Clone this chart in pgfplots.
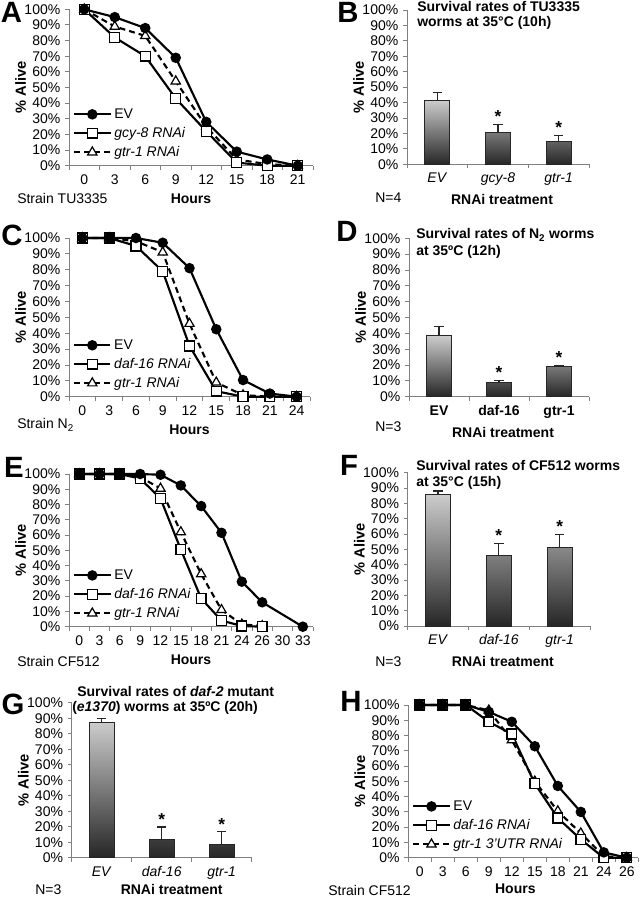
\documentclass[border=0pt]{standalone}
\usepackage{fontspec}
\setmainfont{Liberation Sans}
\usepackage{pgfplots}
\pgfplotsset{compat=1.18}
\newcommand{\tf}{\fontsize{10.5}{12}\selectfont}
\pgfplotsset{
 base/.style={
  scale only axis, axis lines=left,
  axis line style={-, black!50, line width=0.7pt},
  ymin=0, ymax=100, ytick={0,10,...,100},
  yticklabels={0\%,10\%,20\%,30\%,40\%,50\%,60\%,70\%,80\%,90\%,100\%},
  tick align=outside, major tick length=3pt, minor tick length=3pt,
  every tick/.append style={black!50, line width=0.7pt},
  every major x tick/.append style={draw=none},
  ticklabel style={font=\tf},
  ylabel={\% Alive}, ylabel style={font=\fontsize{11}{12}\selectfont\bfseries},
  ylabel shift=-8pt,
  xlabel style={font=\fontsize{10.5}{12}\selectfont\bfseries},
  clip=false,
 },
 lc/.style={base,
  legend style={draw=none, fill=none, at={(0.01,0.02)}, anchor=south west,
   font=\fontsize{10.5}{12}\selectfont, row sep=1.2pt, inner sep=1pt,
   cells={anchor=west}},
  reverse legend,
  legend image code/.code={\draw[mark repeat=2,mark phase=2,##1] plot coordinates {(0cm,0cm) (0.48cm,0cm) (0.96cm,0cm)};},
 },
 sEV/.style={black, line width=1.6pt, mark=*, mark size=3.1pt, mark options={solid}},
 sSQ/.style={black, line width=1.6pt, mark=square*, mark size=3.7pt, mark options={solid, fill=white, line width=1pt}},
 sTR/.style={black, line width=1.6pt, dash pattern=on 4.5pt off 3pt, mark=triangle*, mark size=4pt, mark options={solid, fill=white, line width=0.9pt}},
 bc/.style={base, xmin=-0.5, xmax=2.5, xtick={0,1,2}, minor xtick={-0.5,0.5,1.5,2.5}, xlabel={RNAi treatment}},
 sBar/.style={ybar, bar width=18.75pt, draw=black!85, line width=0.7pt, top color=gray!40, bottom color=black!85},
 sErr/.style={draw=none, mark=none, forget plot, error bars/.cd, y dir=plus, y explicit,
   error bar style={draw=black!85, solid, line width=0.9pt},
   error mark options={draw=black!85, rotate=90, mark size=3.5pt, line width=0.9pt}},
 sAst/.style={draw=none, mark=none, forget plot, nodes near coords={\textbf{*}},
   nodes near coords style={font=\fontsize{13}{14}\selectfont, anchor=south, inner sep=1pt, text=black}},
}
\begin{document}
\begin{tikzpicture}
\useasboundingbox (0pt,0pt) rectangle (480pt,-674.25pt);
% ---------------- A
\begin{axis}[lc, at={(51.75pt,-124.28pt)}, anchor=south west, width=183pt, height=117.3pt,
  xmin=-0.5, xmax=7.5, xtick={0,...,7}, xticklabels={0,3,6,9,12,15,18,21},
  minor xtick={-0.5,0.5,...,7.5}, xlabel={Hours}]
\addplot[sTR] coordinates {(0,100)(1,89)(2,83)(3,54)(4,25)(5,4)(6,1)(7,0)};
\addlegendentry{\textit{gtr-1 RNAi}}
\addplot[sSQ] coordinates {(0,100)(1,82)(2,70)(3,43)(4,22)(5,2)(6,0)(7,0)};
\addlegendentry{\textit{gcy-8 RNAi}}
\addplot[sEV] coordinates {(0,100)(1,95)(2,88)(3,69)(4,28)(5,9)(6,4)(7,0)};
\addlegendentry{EV}
\end{axis}
% ---------------- B
\begin{axis}[bc, at={(305.25pt,-123.23pt)}, anchor=south west, width=136.5pt, height=115.73pt,
  xticklabels={\textit{EV},\textit{gcy-8},\textit{gtr-1}}, xlabel style={xshift=3pt}]
\addplot[sBar] coordinates {(0,41.5)(1,20.7)(2,15)};
\addplot[sErr] coordinates {(0,41.5) +- (0,5) (1,20.7) +- (0,5.2) (2,15) +- (0,3.8)};
\addplot[sAst] coordinates {(1,25.9)(2,18.8)};
\end{axis}
% ---------------- C
\begin{axis}[lc, at={(51.75pt,-297.53pt)}, anchor=south west, width=180.75pt, height=119.03pt,
  xmin=-0.5, xmax=8.5, xtick={0,...,8}, xticklabels={0,3,6,9,12,15,18,21,24},
  minor xtick={-0.5,0.5,...,8.5}, xlabel={Hours}]
\addplot[sTR] coordinates {(0,100)(1,100)(2,98)(3,91)(4,46)(5,9)(6,1)(7,0)(8,0)};
\addlegendentry{\textit{gtr-1 RNAi}}
\addplot[sSQ] coordinates {(0,100)(1,100)(2,95)(3,79)(4,32)(5,3.5)(6,0)(7,0)(8,0)};
\addlegendentry{\textit{daf-16 RNAi}}
\addplot[sEV] coordinates {(0,100)(1,100)(2,100)(3,97)(4,81)(5,42.5)(6,10.5)(7,2)(8,0)};
\addlegendentry{EV}
\end{axis}
% ---------------- D
\begin{axis}[bc, at={(306.75pt,-297.53pt)}, anchor=south west, width=135pt, height=118.8pt,
  xticklabels={\textbf{EV},\textbf{daf-16},\textbf{gtr-1}}, xlabel style={xshift=3pt}]
\addplot[sBar] coordinates {(0,38.5)(1,9)(2,19.3)};
\addplot[sErr] coordinates {(0,38.5) +- (0,5.8) (1,9) +- (0,1.2) (2,19.3) +- (0,0.5)};
\addplot[sAst] coordinates {(1,10.2)(2,19.8)};
\end{axis}
% ---------------- E
\begin{axis}[lc, at={(51.75pt,-470.03pt)}, anchor=south west, width=183pt, height=114.53pt,
  xmin=-0.5, xmax=11.5, xtick={0,...,11}, xticklabels={0,3,6,9,12,15,18,21,24,26,30,33},
  minor xtick={-0.5,0.5,...,11.5}, xlabel={Hours}]
\addplot[sTR] coordinates {(0,100)(1,100)(2,100)(3,98)(4,90.5)(5,62)(6,34.5)(7,11)(8,1.5)(9,0.5)};
\addlegendentry{\textit{gtr-1 RNAi}}
\addplot[sSQ] coordinates {(0,100)(1,100)(2,100)(3,97)(4,84)(5,50.5)(6,18.5)(7,4)(8,0.5)(9,0)};
\addlegendentry{\textit{daf-16 RNAi}}
\addplot[sEV] coordinates {(0,100)(1,100)(2,100)(3,100)(4,99.5)(5,92.5)(6,79)(7,61.5)(8,29.5)(9,16)(11,0)};
\addlegendentry{EV}
\end{axis}
% ---------------- F
\begin{axis}[bc, at={(305.78pt,-469.5pt)}, anchor=south west, width=136.73pt, height=114.98pt,
  xticklabels={\textit{EV},\textit{daf-16},\textit{gtr-1}}, xlabel style={xshift=3pt}]
\addplot[sBar] coordinates {(0,85.9)(1,45.7)(2,51.5)};
\addplot[sErr] coordinates {(0,85.9) +- (0,2.1) (1,45.7) +- (0,8.2) (2,51.5) +- (0,8.3)};
\addplot[sAst] coordinates {(1,53.9)(2,59.8)};
\end{axis}
% ---------------- G
\begin{axis}[bc, at={(53.78pt,-643.28pt)}, anchor=south west, width=135pt, height=116.25pt,
  xticklabels={\textit{EV},\textit{daf-16},\textit{gtr-1}}, xlabel style={xshift=7.5pt, yshift=2.5pt}]
\addplot[sBar] coordinates {(0,87.5)(1,11.6)(2,8.8)};
\addplot[sErr] coordinates {(0,87.5) +- (0,2.2) (1,11.6) +- (0,8.2) (2,8.8) +- (0,8)};
\addplot[sAst] coordinates {(1,19.8)(2,16.8)};
\end{axis}
% ---------------- H
\begin{axis}[lc, at={(306.23pt,-643.28pt)}, anchor=south west, width=172.5pt, height=114.53pt,
  xmin=-0.5, xmax=9.5, xtick={0,...,9}, xticklabels={0,3,6,9,12,15,18,21,24,26},
  minor xtick={-0.5,0.5,...,9.5}, xlabel={Hours}, xlabel style={xshift=-6pt, yshift=1.5pt}]
\addplot[sTR] coordinates {(0,100)(1,100)(2,100)(3,96.5)(4,77)(5,50)(6,30.5)(7,16)(8,1)(9,0)};
\addlegendentry{\textit{gtr-1 3'UTR RNAi}}
\addplot[sSQ] coordinates {(0,100)(1,100)(2,100)(3,89)(4,81)(5,48.5)(6,26)(7,12)(8,0)(9,0)};
\addlegendentry{\textit{daf-16 RNAi}}
\addplot[sEV] coordinates {(0,100)(1,100)(2,100)(3,95.5)(4,89)(5,73)(6,47)(7,30)(8,3.5)(9,0)};
\addlegendentry{EV}
\end{axis}
% ---------------- texts
\begin{scope}[x=0.75pt,y=-0.75pt]
\tikzset{pl/.style={font=\fontsize{22}{24}\selectfont\bfseries, anchor=center, inner sep=0pt},
 tt/.style={font=\fontsize{10.5}{12}\selectfont\bfseries, anchor=west, inner sep=0pt},
 st/.style={font=\tf, anchor=west, inner sep=0pt}}
\node[pl] at (11.5,12.5) {A};
\node[pl] at (348,12) {B};
\node[pl] at (12,235) {C};
\node[pl] at (347,231) {D};
\node[pl] at (14,467) {E};
\node[pl] at (349,465) {F};
\node[pl] at (13,704) {G};
\node[pl] at (351,701) {H};
\node[st] at (17,198) {Strain TU3335};
\node[st] at (375,198) {N=4};
\node[st] at (17,425) {Strain N\textsubscript{2}};
\node[st] at (375,427) {N=3};
\node[st] at (17,661) {Strain CF512};
\node[st] at (375,662) {N=3};
\node[st] at (35,890) {N=3};
\node[st] at (328,890) {Strain CF512};
\node[tt] at (417,6.5) {Survival rates of TU3335};
\node[tt] at (417,22.5) {worms at 35°C (10h)};
\node[tt] at (416,235) {Survival rates of N\textsubscript{2} worms};
\node[tt] at (416,251.7) {at 35ºC (12h)};
\node[tt] at (416,465) {Survival rates of CF512 worms};
\node[tt] at (416,483) {at 35°C (15h)};
\node[tt] at (77,691.7) {Survival rates of \textit{daf-2} mutant};
\node[tt] at (72,708.3) {(\textit{e1370}) worms at 35ºC (20h)};
\end{scope}
\end{tikzpicture}
\end{document}
